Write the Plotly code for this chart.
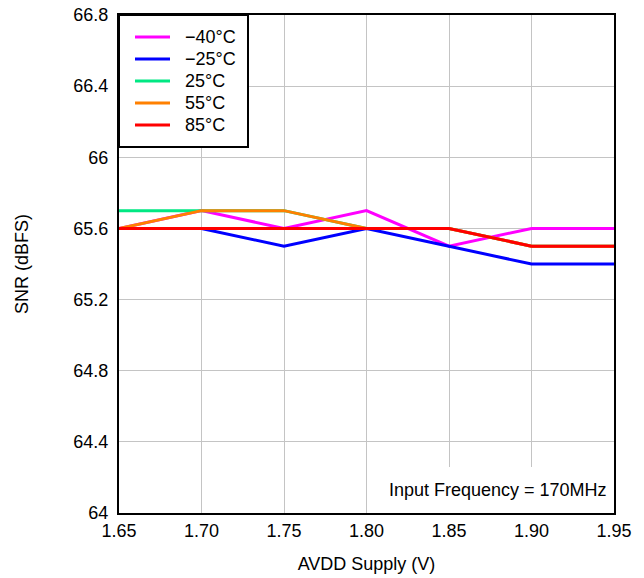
import plotly.graph_objects as go

supply_v = [1.65, 1.70, 1.75, 1.80, 1.85, 1.90, 1.95]
snr_m40 = [65.6, 65.7, 65.6, 65.7, 65.5, 65.6, 65.6]
snr_m25 = [65.6, 65.6, 65.5, 65.6, 65.5, 65.4, 65.4]
snr_25 = [65.7, 65.7, 65.7, 65.6, 65.6, 65.5, 65.5]
snr_55 = [65.6, 65.7, 65.7, 65.6, 65.6, 65.5, 65.5]
snr_85 = [65.6, 65.6, 65.6, 65.6, 65.6, 65.5, 65.5]

series_names = ["\u221240\u00b0C", "\u221225\u00b0C", "25\u00b0C", "55\u00b0C", "85\u00b0C"]
series_vals = [snr_m40, snr_m25, snr_25, snr_55, snr_85]
series_colors = ["#ff00ff", "#0000ff", "#00e883", "#ff8000", "#ff0000"]

x_ticks = [1.65, 1.70, 1.75, 1.80, 1.85, 1.90, 1.95]
x_ticktext = ["1.65", "1.70", "1.75", "1.80", "1.85", "1.90", "1.95"]
y_ticks = [64, 64.4, 64.8, 65.2, 65.6, 66, 66.4, 66.8]
y_ticktext = ["64", "64.4", "64.8", "65.2", "65.6", "66", "66.4", "66.8"]

FONT = "Liberation Sans, Arial, sans-serif"
FS = 18

# plot area geometry (pixels)
W, H = 644, 578
ML, MT = 119, 15
PW, PH = 495, 498
MR = W - ML - PW
MB = H - MT - PH

fig = go.Figure()
for name, vals, col in zip(series_names, series_vals, series_colors):
    fig.add_trace(go.Scatter(x=supply_v, y=vals, mode="lines", name=name,
                             line=dict(color=col, width=3), showlegend=False))

fig.update_layout(
    width=W, height=H,
    margin=dict(l=ML, r=MR, t=MT, b=MB, autoexpand=False),
    paper_bgcolor="white", plot_bgcolor="white",
    font=dict(family=FONT, size=FS, color="black"),
    showlegend=False,
    xaxis=dict(range=[1.65, 1.95], tickvals=x_ticks, ticktext=x_ticktext,
               showgrid=True, gridcolor="#c4c4c4", gridwidth=1,
               showline=True, linecolor="black", linewidth=2, mirror=True,
               ticks="", ticklabelstandoff=0, zeroline=False, automargin=False,
               ticklabeloverflow="allow",
               title=dict(text="AVDD Supply (V)", standoff=18,
                          font=dict(family=FONT, size=FS))),
    yaxis=dict(range=[64, 66.8], tickvals=y_ticks, ticktext=y_ticktext,
               showgrid=True, gridcolor="#c4c4c4", gridwidth=1,
               showline=True, linecolor="black", linewidth=2, mirror=True,
               ticks="", ticklabelstandoff=5, zeroline=False, automargin=False,
               ticklabeloverflow="allow",
               title=dict(text="SNR (dBFS)", standoff=40,
                          font=dict(family=FONT, size=FS))),
)

# legend box (drawn manually to match the reference's compact spacing)
def px_x(p):
    return p / PW

def px_y(p):
    return 1 - p / PH

fig.add_shape(type="rect", xref="paper", yref="paper",
              x0=0, x1=px_x(129), y0=px_y(132), y1=1,
              fillcolor="white", line=dict(color="black", width=2), layer="above")
for i, (name, col) in enumerate(zip(series_names, series_colors)):
    yc = px_y(22 + 22 * i)
    fig.add_shape(type="line", xref="paper", yref="paper",
                  x0=px_x(16), x1=px_x(51), y0=yc, y1=yc,
                  line=dict(color=col, width=3), layer="above")
    fig.add_annotation(x=px_x(64), y=yc, xref="paper", yref="paper",
                       xanchor="left", yanchor="middle", text=name, showarrow=False,
                       font=dict(family=FONT, size=FS, color="black"))

# white note box
fig.add_shape(type="rect", xref="x", yref="y", x0=1.801, x1=1.95, y0=64, y1=64.259,
              fillcolor="white", line=dict(width=0), layer="between")
fig.add_annotation(x=1, y=0, xref="paper", yref="paper", xanchor="right", yanchor="middle",
                   text="Input Frequency = 170MHz", showarrow=False,
                   xshift=-5, yshift=23,
                   font=dict(family=FONT, size=FS, color="black"))

fig.write_html("out.html", config={"displayModeBar": False},
               post_script="document.body.style.margin='0';document.body.style.overflow='hidden';")
